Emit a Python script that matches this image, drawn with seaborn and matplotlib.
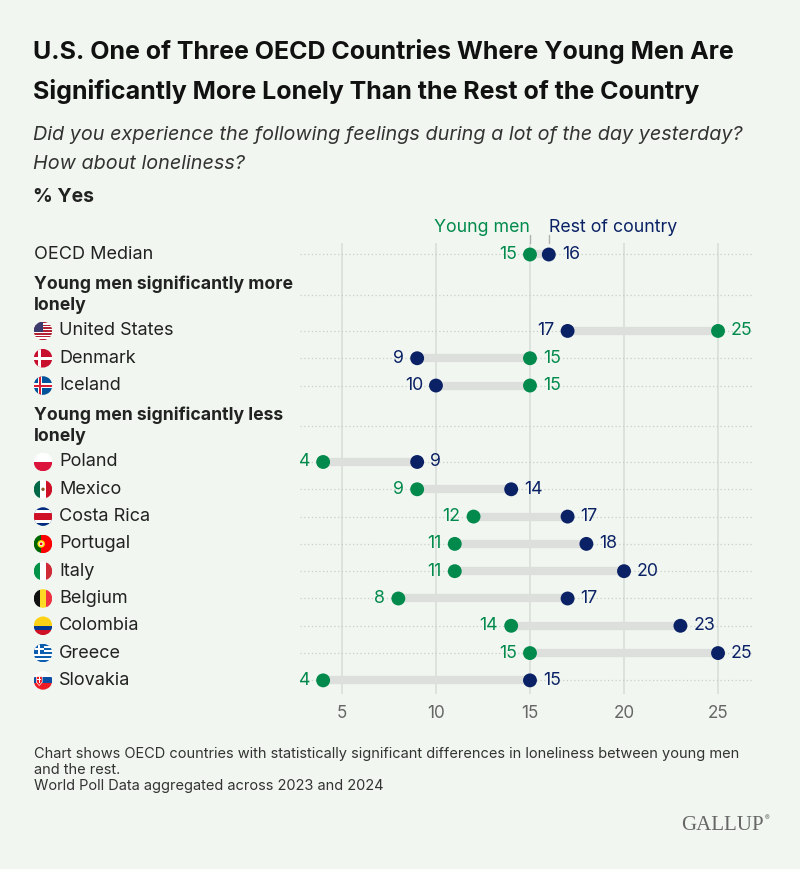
import numpy as np
import pandas as pd
import matplotlib
matplotlib.use("Agg")
import matplotlib.pyplot as plt
import seaborn as sns
from matplotlib.patches import Circle, Rectangle, Polygon
from matplotlib.transforms import blended_transform_factory

# ---------------- data ----------------
median_label = "OECD Median"
median_young = 15
median_rest = 16

group_headers = ["Young men significantly more\nlonely",
                 "Young men significantly less\nlonely"]
more_countries = ["United States", "Denmark", "Iceland"]
more_young = [25, 15, 15]
more_rest = [17, 9, 10]
less_countries = ["Poland", "Mexico", "Costa Rica", "Portugal", "Italy",
                  "Belgium", "Colombia", "Greece", "Slovakia"]
less_young = [4, 9, 12, 11, 11, 8, 14, 15, 4]
less_rest = [9, 14, 17, 18, 20, 17, 23, 25, 15]
x_ticks = [5, 10, 15, 20, 25]
series_names = ["Young men", "Rest of country"]

title = ("U.S. One of Three OECD Countries Where Young Men Are\n"
         "Significantly More Lonely Than the Rest of the Country")
subtitle = ("Did you experience the following feelings during a lot of the day yesterday?\n"
            "How about loneliness?")
unit_label = "% Yes"
footnote = ("Chart shows OECD countries with statistically significant differences in loneliness between young men\n"
            "and the rest.\n"
            "World Poll Data aggregated across 2023 and 2024")

# ---------------- style ----------------
BG = "#F1F7F0"
GREEN = "#028A4D"
NAVY = "#0B2166"
TXT = "#222222"
FONT = ["Inter", "DejaVu Sans"]

sns.set_theme(style="white")
plt.rcParams["font.family"] = FONT

W, H = 800, 869
fig = plt.figure(figsize=(W / 100, H / 100), dpi=100, facecolor=BG)

# layout of rows (row units)
rows = []  # (label, pos, young, rest)
rows.append((median_label, 0.0, median_young, median_rest))
header_pos = []
last = 0.0
for hdr, cs, ys, rs in [(group_headers[0], more_countries, more_young, more_rest),
                        (group_headers[1], less_countries, less_young, less_rest)]:
    hp = last + 1.47
    header_pos.append((hdr, hp))
    p = hp + 1.33
    for c, y, r in zip(cs, ys, rs):
        rows.append((c, p, y, r))
        last = p
        p += 1.0

df = pd.DataFrame(rows, columns=["country", "pos", "young", "rest"])
long = pd.melt(df, id_vars=["country", "pos"], value_vars=["young", "rest"],
               var_name="series", value_name="value")
long["series"] = long["series"].map({"young": series_names[0], "rest": series_names[1]})

# main axes: pixel box x 300..753, y 243..693
ax_top_px, ax_bot_px = 243, 694
ax = fig.add_axes([300 / W, 1 - ax_bot_px / H, 453 / W, (ax_bot_px - ax_top_px) / H])
ax.set_facecolor("none")
row_px = 27.3
y_top = -(254.5 - ax_top_px) / row_px
y_bot = y_top + (ax_bot_px - ax_top_px) / row_px
ax.set_ylim(y_bot, y_top)
ax.set_xlim(2.77, 26.86)

for s in ax.spines.values():
    s.set_visible(False)

# vertical grid
for t in x_ticks:
    ax.axvline(t, color="#D6DCD6", lw=1.1, zorder=0)
# dotted row lines
for p in list(df["pos"]) + [hp for _, hp in header_pos]:
    ax.axhline(p, color="#C9CEC9", lw=0.9, ls=(0, (1, 2)), zorder=1)

# connectors
ax.hlines(df["pos"], df[["young", "rest"]].min(axis=1), df[["young", "rest"]].max(axis=1),
          color="#DCDFDC", lw=6, zorder=2)

sns.scatterplot(data=long, x="value", y="pos", hue="series",
                palette={series_names[0]: GREEN, series_names[1]: NAVY},
                s=100, edgecolor="none", legend=False, zorder=3, ax=ax)

# value labels
for _, r in df.iterrows():
    items = [(r["young"], GREEN), (r["rest"], NAVY)]
    lo, hi = sorted(items, key=lambda t: t[0])
    ax.annotate(f"{lo[0]:g}", (lo[0], r["pos"]), xytext=(-13, 0), textcoords="offset pixels",
                ha="right", va="center", color=lo[1], fontsize=12.8)
    ax.annotate(f"{hi[0]:g}", (hi[0], r["pos"]), xytext=(13, 0), textcoords="offset pixels",
                ha="left", va="center", color=hi[1], fontsize=12.8)

ax.set_xticks(x_ticks)
ax.set_xticklabels([str(t) for t in x_ticks])
ax.set_yticks([])
ax.tick_params(axis="x", length=0, pad=8, labelsize=12.3, labelcolor="#666666")
ax.set_xlabel("")
ax.set_ylabel("")

# legend labels above the median row
bt = blended_transform_factory(ax.transData, ax.transAxes)
ah = ax_bot_px - ax_top_px
tick_h = 8 / ah
for val, name, ha, col in [(median_young, series_names[0], "right", GREEN),
                           (median_rest, series_names[1], "left", NAVY)]:
    ax.plot([val, val], [1.0, 1.0 + tick_h], transform=bt, color="#B0B0B0", lw=1, clip_on=False)
    ax.text(val, 1.0 + 16 / ah, name, transform=bt, ha=ha, va="center",
            color=col, fontsize=12.8)

# overlay axes in pixel coords
ov = fig.add_axes([0, 0, 1, 1], zorder=5)
ov.set_xlim(0, W)
ov.set_ylim(H, 0)
ov.axis("off")
ov.patch.set_visible(False)


def pos_to_px(p):
    return H - ax.transData.transform((10, p))[1]


ov.text(33, 51, title.split("\n")[0], fontsize=18, fontweight="bold", color="#111111", va="center")
ov.text(33, 91, title.split("\n")[1], fontsize=18, fontweight="bold", color="#111111", va="center")
ov.text(33, 135, subtitle.split("\n")[0], fontsize=14.25, style="italic", color="#333333", va="center")
ov.text(33, 164, subtitle.split("\n")[1], fontsize=14.25, style="italic", color="#333333", va="center")
ov.text(33, 197, unit_label, fontsize=14, fontweight="bold", color=TXT, va="center")

# left labels
ov.text(34, pos_to_px(0), median_label, fontsize=13, color=TXT, va="center")
for hdr, hp in header_pos:
    ov.text(34, pos_to_px(hp), hdr, fontsize=12.7, fontweight="bold", color=TXT, va="center",
            linespacing=1.35)


def draw_flag(name, cx, cy, r=9):
    circ = Circle((cx, cy), r, transform=ov.transData, fc="none", ec="none")
    ov.add_patch(circ)

    def rect(x0, y0, w, h, color):
        p = Rectangle((cx + x0 * r, cy + y0 * r), w * r, h * r, fc=color, ec="none", lw=0)
        ov.add_patch(p)
        p.set_clip_path(circ)

    def poly(pts, color):
        p = Polygon([(cx + a * r, cy + b * r) for a, b in pts], closed=True, fc=color, ec="none")
        ov.add_patch(p)
        p.set_clip_path(circ)

    def dot(x0, y0, rr, color):
        p = Circle((cx + x0 * r, cy + y0 * r), rr * r, fc=color, ec="none")
        ov.add_patch(p)
        p.set_clip_path(circ)

    if name == "United States":
        rect(-1, -1, 2, 2, "white")
        for i in range(13):
            if i % 2 == 0:
                rect(-1, -1 + i * 2 / 13, 2, 2 / 13, "#B22234")
        rect(-1, -1, 1.0, 14 / 13, "#3C3B6E")
    elif name == "Denmark":
        rect(-1, -1, 2, 2, "#C8102E")
        rect(-0.5, -1, 0.32, 2, "white")
        rect(-1, -0.16, 2, 0.32, "white")
    elif name == "Iceland":
        rect(-1, -1, 2, 2, "#02529C")
        rect(-0.55, -1, 0.44, 2, "white")
        rect(-1, -0.22, 2, 0.44, "white")
        rect(-0.44, -1, 0.22, 2, "#DC1E35")
        rect(-1, -0.11, 2, 0.22, "#DC1E35")
    elif name == "Poland":
        rect(-1, -1, 2, 1, "white")
        rect(-1, 0, 2, 1, "#DC143C")
    elif name == "Mexico":
        rect(-1, -1, 0.667, 2, "#006847")
        rect(-0.333, -1, 0.667, 2, "white")
        rect(0.333, -1, 0.667, 2, "#CE1126")
        dot(0, 0, 0.18, "#8C5A2B")
    elif name == "Costa Rica":
        rect(-1, -1, 2, 2, "#002B7F")
        rect(-1, -0.667, 2, 1.333, "white")
        rect(-1, -0.333, 2, 0.667, "#CE1126")
    elif name == "Portugal":
        rect(-1, -1, 0.8, 2, "#006600")
        rect(-0.2, -1, 1.2, 2, "#FF0000")
        dot(-0.2, 0, 0.4, "#FFE000")
        dot(-0.2, 0, 0.25, "white")
        dot(-0.2, 0, 0.15, "#FF0000")
    elif name == "Italy":
        rect(-1, -1, 0.667, 2, "#009246")
        rect(-0.333, -1, 0.667, 2, "white")
        rect(0.333, -1, 0.667, 2, "#CE2B37")
    elif name == "Belgium":
        rect(-1, -1, 0.667, 2, "#111111")
        rect(-0.333, -1, 0.667, 2, "#FDDA24")
        rect(0.333, -1, 0.667, 2, "#EF3340")
    elif name == "Colombia":
        rect(-1, -1, 2, 1, "#FCD116")
        rect(-1, 0, 2, 0.5, "#003893")
        rect(-1, 0.5, 2, 0.5, "#CE1126")
    elif name == "Greece":
        rect(-1, -1, 2, 2, "white")
        for i in range(9):
            if i % 2 == 0:
                rect(-1, -1 + i * 2 / 9, 2, 2 / 9, "#0D5EAF")
        rect(-1, -1, 1.11, 10 / 9, "#0D5EAF")
        rect(-0.56, -1, 0.22, 10 / 9, "white")
        rect(-1, -0.56, 1.11, 2 / 9, "white")
    elif name == "Slovakia":
        rect(-1, -1, 2, 0.667, "white")
        rect(-1, -0.333, 2, 0.667, "#0B4EA2")
        rect(-1, 0.333, 2, 0.667, "#EE1C25")
        poly([(-0.75, -0.45), (-0.05, -0.45), (-0.05, 0.2), (-0.4, 0.6), (-0.75, 0.2)], "white")
        poly([(-0.68, -0.38), (-0.12, -0.38), (-0.12, 0.17), (-0.4, 0.5), (-0.68, 0.17)], "#EE1C25")
        rect(-0.45, -0.33, 0.1, 0.6, "white")
        rect(-0.6, -0.15, 0.4, 0.08, "white")


for _, r in df.iloc[1:].iterrows():
    ypx = pos_to_px(r["pos"])
    draw_flag(r["country"], 43, ypx, r=9.3)
    ov.text(59, ypx, r["country"], fontsize=13, color=TXT, va="center")

# footnote
ov.text(34, 770, footnote, fontsize=10.5, color="#333333", va="center", linespacing=1.15)

# logo
ov.text(764, 826, "GALLUP", fontsize=15, color="#666666", va="center", ha="right",
        family=["Liberation Serif", "DejaVu Serif"])
ov.text(765, 818, "®", fontsize=5, color="#666666", va="center", ha="left")

fig.savefig("out.png", dpi=100, facecolor=BG)
